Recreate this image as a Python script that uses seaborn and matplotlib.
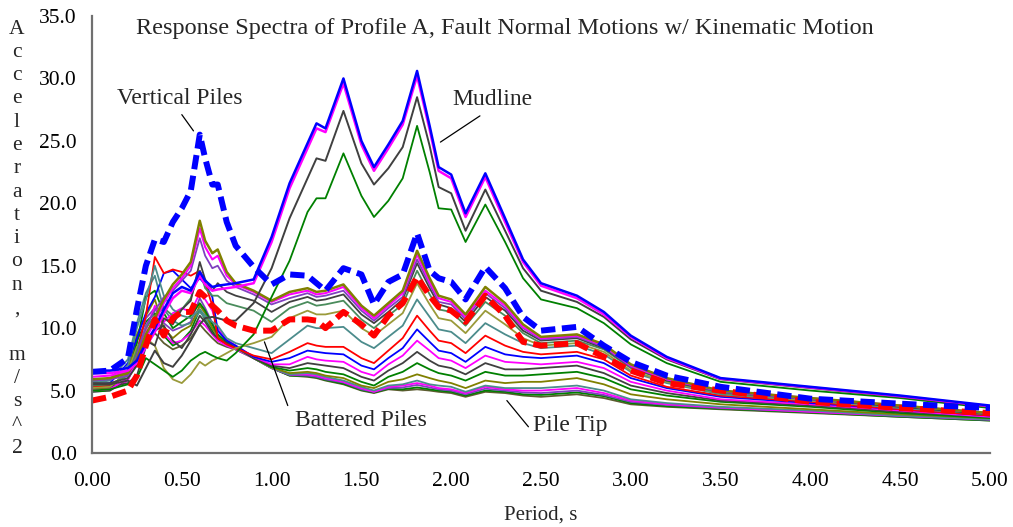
import matplotlib
matplotlib.use("Agg")
import matplotlib.pyplot as plt
import seaborn as sns
import numpy as np

# Period grid (s)
period = [0.00, 0.10, 0.20, 0.25, 0.30, 0.35, 0.40, 0.45, 0.50, 0.55,
          0.60, 0.63, 0.67, 0.70, 0.75, 0.80, 0.90, 1.00, 1.10, 1.20,
          1.25, 1.30, 1.40, 1.50, 1.57, 1.65, 1.73, 1.81, 1.88, 1.93,
          2.00, 2.08, 2.19, 2.30, 2.40, 2.50, 2.70, 2.85, 3.00, 3.20,
          3.50, 4.00, 4.50, 5.00]

# Free-field spectra near the mudline (m/s^2)
mud_blue = [6.6, 6.6, 6.8, 7.4, 8.8, 10.0, 11.5, 12.8, 13.3, 13.0, 14.5, 13.8, 13.3, 13.4, 13.5, 13.6,
            13.9, 17.3, 21.6, 24.8, 26.4, 26.0, 30.0, 25.0, 22.9, 24.7, 26.6, 30.6, 26.2, 22.9,
            22.3, 19.2, 22.4, 18.8, 15.5, 13.6, 12.6, 11.3, 9.4, 7.7, 6.0, 5.3, 4.6, 3.8]
mud_magenta = [6.4, 6.4, 6.6, 7.2, 8.5, 9.7, 11.2, 12.4, 13.0, 12.8, 14.2, 13.5, 13.0, 13.1, 13.2, 13.3,
               13.6, 16.9, 21.2, 24.4, 26.0, 25.7, 29.6, 24.7, 22.6, 24.4, 26.3, 30.2, 25.9, 22.6,
               22.0, 18.9, 22.1, 18.5, 15.3, 13.4, 12.4, 11.1, 9.3, 7.6, 5.95, 5.25, 4.55, 3.75]
mud_gray = [5.5, 5.5, 5.8, 5.4, 6.8, 8.2, 7.2, 6.9, 7.8, 9.0, 10.3, 10.8, 10.9, 10.8, 10.6, 10.6,
            12.0, 14.8, 18.8, 22.0, 23.6, 23.4, 27.4, 23.2, 21.5, 22.8, 24.5, 28.5, 24.6, 21.3,
            20.8, 17.8, 21.1, 17.8, 14.8, 13.0, 12.1, 10.9, 9.1, 7.5, 5.9, 5.2, 4.5, 3.7]
mud_green = [5.0, 5.1, 5.5, 6.0, 7.6, 7.1, 6.6, 6.1, 6.6, 7.4, 7.9, 8.1, 7.8, 7.6, 7.4, 8.0,
             9.5, 12.5, 15.4, 19.3, 20.4, 20.4, 24.0, 20.6, 18.9, 20.2, 22.0, 26.2, 22.5, 19.6,
             19.5, 16.9, 19.9, 16.9, 14.0, 12.3, 11.6, 10.4, 8.7, 7.2, 5.7, 5.0, 4.4, 3.6]

# Spectra along the pile depth, from shallow to the pile tip
depth_01 = [5.9, 6.0, 6.4, 7.5, 9.5, 10.8, 12.3, 13.5, 14.3, 15.3, 18.6, 17.0, 16.0, 16.3, 14.5, 13.6,
            13.0, 12.2, 12.9, 13.2, 12.9, 13.0, 13.5, 11.8, 11.0, 12.0, 13.0, 16.2, 14.0, 12.6,
            12.3, 11.1, 13.3, 12.0, 10.3, 9.3, 9.5, 8.7, 7.1, 6.0, 5.0, 4.4, 3.8, 3.2]
depth_02 = [6.1, 6.2, 6.5, 7.4, 9.2, 10.5, 12.0, 13.2, 14.0, 15.0, 18.0, 16.5, 15.5, 15.8, 14.2, 13.5,
            12.9, 12.1, 12.7, 13.0, 12.7, 12.8, 13.3, 11.6, 10.8, 11.8, 12.8, 15.9, 13.7, 12.4,
            12.1, 10.9, 13.0, 11.8, 10.1, 9.2, 9.4, 8.6, 7.0, 5.9, 5.0, 4.4, 3.8, 3.2]
depth_03 = [5.8, 5.9, 6.2, 7.8, 10.2, 11.4, 12.5, 13.0, 13.8, 14.6, 17.2, 15.8, 14.8, 15.0, 13.8, 13.3,
            12.7, 11.9, 12.4, 12.8, 12.5, 12.6, 13.0, 11.4, 10.6, 11.6, 12.5, 15.5, 13.5, 12.1,
            11.9, 10.7, 12.8, 11.6, 10.0, 9.1, 9.3, 8.5, 6.9, 5.9, 4.9, 4.3, 3.8, 3.15]
depth_04 = [5.6, 5.6, 6.0, 7.0, 9.0, 8.6, 10.8, 10.3, 11.5, 12.2, 15.3, 13.9, 13.0, 13.6, 12.9, 12.6,
            12.2, 11.3, 12.1, 12.5, 12.2, 12.3, 12.7, 11.1, 10.4, 11.3, 12.3, 15.2, 13.2, 11.9,
            11.6, 10.5, 12.5, 11.4, 9.8, 9.0, 9.2, 8.4, 6.9, 5.8, 4.9, 4.3, 3.7, 3.1]
depth_05 = [5.4, 5.5, 6.2, 8.2, 10.0, 11.0, 11.6, 11.0, 11.5, 12.4, 14.6, 13.2, 12.6, 12.6, 12.0, 11.8,
            11.4, 10.5, 11.6, 12.1, 11.8, 11.9, 12.2, 10.7, 10.0, 11.0, 11.9, 14.6, 12.7, 11.5,
            11.3, 10.2, 12.1, 11.0, 9.6, 8.8, 9.0, 8.3, 6.8, 5.8, 4.8, 4.3, 3.7, 3.1]
depth_06 = [5.2, 5.3, 6.5, 8.5, 9.2, 8.6, 6.8, 5.9, 5.6, 6.3, 7.3, 7.0, 7.4, 7.6, 8.0, 8.4,
            8.8, 9.3, 10.8, 11.4, 11.1, 11.1, 11.4, 10.0, 9.4, 10.3, 11.2, 13.6, 11.9, 10.8,
            10.6, 9.6, 11.4, 10.3, 9.2, 8.6, 8.8, 8.1, 6.6, 5.7, 4.8, 4.2, 3.7, 3.1]
depth_07 = [5.6, 5.8, 7.0, 10.0, 12.3, 15.0, 12.6, 11.5, 11.0, 10.8, 11.5, 11.0, 10.5, 10.2, 9.2, 8.8,
            8.4, 8.0, 9.1, 10.2, 10.0, 10.0, 10.1, 8.9, 8.4, 9.3, 10.2, 12.3, 10.9, 9.9,
            9.7, 8.8, 10.4, 9.5, 8.8, 8.4, 8.6, 7.9, 6.5, 5.6, 4.7, 4.2, 3.6, 3.1]
depth_08 = [5.3, 5.4, 6.3, 8.0, 11.0, 15.7, 14.4, 14.7, 14.5, 14.2, 14.6, 13.6, 11.8, 9.2, 8.7, 8.4,
            7.8, 7.5, 8.1, 8.8, 8.6, 8.5, 8.5, 7.6, 7.2, 8.2, 9.2, 11.0, 9.8, 9.0,
            8.8, 8.0, 9.4, 8.6, 8.1, 7.9, 8.1, 7.5, 6.2, 5.3, 4.6, 4.1, 3.5, 3.0]
depth_09 = [5.5, 5.6, 7.2, 9.2, 11.2, 12.5, 14.4, 14.6, 13.9, 13.2, 14.0, 13.5, 12.5, 9.8, 9.0, 8.6,
            7.7, 7.3, 7.6, 8.2, 8.1, 8.0, 7.9, 7.0, 6.7, 7.6, 8.4, 9.9, 8.9, 8.2,
            8.0, 7.3, 8.5, 7.9, 7.7, 7.6, 7.8, 7.2, 6.0, 5.2, 4.5, 4.0, 3.5, 3.0]
depth_10 = [5.0, 5.1, 6.0, 7.8, 9.8, 11.8, 10.5, 11.2, 11.6, 11.3, 12.8, 12.3, 11.4, 10.0, 9.1, 8.6,
            7.7, 7.1, 7.1, 7.7, 7.5, 7.4, 7.3, 6.5, 6.2, 7.1, 7.8, 9.0, 8.2, 7.6,
            7.4, 6.8, 7.8, 7.3, 7.2, 7.1, 7.3, 6.8, 5.7, 5.0, 4.3, 3.9, 3.4, 2.9]
depth_11 = [5.2, 5.3, 5.6, 6.2, 8.5, 9.8, 10.2, 9.0, 8.4, 9.5, 11.0, 10.5, 9.6, 9.2, 8.8, 8.5,
            7.6, 7.0, 6.8, 7.2, 7.1, 7.0, 6.8, 6.1, 5.8, 6.6, 7.2, 8.1, 7.4, 7.0,
            6.8, 6.3, 7.2, 6.7, 6.7, 6.8, 7.0, 6.4, 5.4, 4.8, 4.2, 3.8, 3.3, 2.9]
depth_12 = [4.9, 5.0, 6.0, 8.8, 12.5, 13.0, 11.2, 10.0, 10.5, 11.0, 12.0, 11.4, 10.3, 9.5, 8.9, 8.5,
            7.6, 6.9, 6.6, 6.8, 6.7, 6.5, 6.3, 5.7, 5.4, 6.1, 6.5, 7.2, 6.7, 6.4,
            6.2, 5.8, 6.5, 6.2, 6.2, 6.3, 6.5, 6.0, 5.1, 4.6, 4.1, 3.7, 3.2, 2.8]
depth_13 = [5.1, 5.2, 6.4, 9.5, 11.0, 12.3, 10.0, 9.2, 9.8, 10.2, 11.8, 11.2, 10.0, 9.4, 8.9, 8.5,
            7.6, 6.85, 6.4, 6.5, 6.4, 6.2, 6.0, 5.4, 5.2, 5.7, 5.9, 6.3, 6.0, 5.8,
            5.6, 5.2, 5.8, 5.6, 5.7, 5.7, 6.0, 5.5, 4.7, 4.3, 3.9, 3.5, 3.1, 2.8]
depth_14 = [5.7, 5.9, 7.5, 10.4, 12.8, 14.2, 11.5, 10.6, 10.2, 10.4, 11.3, 10.8, 10.0, 9.3, 8.8, 8.4,
            7.6, 6.8, 6.3, 6.4, 6.3, 6.1, 5.8, 5.3, 5.0, 5.4, 5.5, 5.8, 5.5, 5.4,
            5.3, 4.9, 5.4, 5.2, 5.2, 5.2, 5.4, 5.0, 4.3, 4.0, 3.7, 3.4, 3.0, 2.7]
depth_15 = [4.9, 5.0, 5.8, 7.6, 9.6, 10.8, 9.6, 8.8, 9.0, 9.6, 10.6, 10.2, 9.5, 9.0, 8.6, 8.3,
            7.6, 6.8, 6.3, 6.3, 6.2, 6.0, 5.7, 5.2, 4.9, 5.3, 5.4, 5.6, 5.4, 5.2,
            5.1, 4.8, 5.3, 5.1, 5.0, 5.0, 5.2, 4.8, 4.2, 3.9, 3.65, 3.3, 3.0, 2.7]
depth_16 = [5.3, 5.4, 6.3, 8.2, 10.8, 11.6, 10.4, 9.8, 10.1, 10.5, 12.4, 11.6, 10.4, 9.5, 8.8, 8.4,
            7.6, 6.8, 6.25, 6.2, 6.1, 5.9, 5.65, 5.1, 4.9, 5.2, 5.25, 5.45, 5.25, 5.1,
            5.0, 4.7, 5.15, 5.0, 4.85, 4.8, 5.0, 4.65, 4.1, 3.85, 3.6, 3.3, 2.95, 2.65]
depth_17 = [5.1, 5.2, 6.6, 9.0, 10.5, 11.2, 9.4, 8.6, 9.0, 9.8, 11.5, 10.7, 9.8, 9.1, 8.7, 8.3,
            7.6, 6.8, 6.2, 6.15, 6.05, 5.85, 5.55, 5.05, 4.85, 5.15, 5.1, 5.25, 5.1, 5.0,
            4.9, 4.6, 5.0, 4.9, 4.7, 4.65, 4.85, 4.55, 4.0, 3.75, 3.55, 3.25, 2.9, 2.6]
pile_tip = [5.0, 5.1, 5.9, 7.2, 8.8, 9.6, 8.8, 8.3, 8.6, 9.2, 10.3, 9.8, 9.2, 8.8, 8.5, 8.3,
            7.6, 6.8, 6.2, 6.1, 6.0, 5.8, 5.5, 5.0, 4.8, 5.1, 5.0, 5.1, 5.0, 4.9,
            4.8, 4.5, 4.9, 4.8, 4.6, 4.5, 4.7, 4.4, 3.9, 3.7, 3.5, 3.2, 2.9, 2.6]

# Pile-cap responses
vertical_piles = [6.5, 6.6, 7.6, 11.5, 15.0, 17.1, 16.9, 18.5, 19.6, 21.0, 25.5, 23.6, 21.5, 21.5, 18.5, 16.6,
                  14.9, 13.5, 14.3, 14.2, 13.6, 13.0, 14.8, 14.3, 11.9, 13.7, 14.3, 17.6, 14.6, 14.0,
                  13.7, 12.3, 14.9, 13.2, 10.9, 9.8, 10.1, 8.6, 7.3, 6.2, 5.3, 4.35, 3.95, 3.6]
battered_piles = [4.2, 4.5, 5.0, 6.2, 8.6, 10.7, 9.4, 10.8, 11.3, 11.3, 12.9, 12.5, 11.8, 11.4, 10.6, 10.2,
                  9.8, 9.8, 10.7, 10.7, 10.6, 10.0, 11.3, 10.3, 9.4, 11.0, 12.0, 14.1, 12.6, 11.7,
                  11.4, 10.5, 12.6, 11.0, 8.9, 8.6, 8.8, 7.7, 6.6, 5.6, 5.0, 4.1, 3.6, 3.2]

OLIVE, MAG, PURP, DGRAY = "#808000", "#FF00FF", "#8040C0", "#404040"
SEAG, KHAKI, TEAL, GREEN = "#4A8C5C", "#9A9A3A", "#4C8C8C", "#008000"

depth_series = [
    (pile_tip, "#5C5C30", 1.3), (depth_17, GREEN, 1.3), (depth_16, PURP, 1.3),
    (depth_15, MAG, 1.3), (depth_14, TEAL, 1.3), (depth_13, OLIVE, 1.3),
    (depth_12, GREEN, 1.3), (depth_11, DGRAY, 1.3), (depth_10, MAG, 1.3),
    (depth_09, "#0000FF", 1.3), (depth_08, "#FF0000", 1.3), (depth_07, TEAL, 1.3),
    (depth_06, KHAKI, 1.3), (depth_05, SEAG, 1.3), (depth_04, DGRAY, 1.3),
    (depth_03, PURP, 1.3), (depth_02, MAG, 1.5), (depth_01, OLIVE, 1.8),
]
mudline_series = [
    (mud_green, GREEN, 1.3), (mud_gray, DGRAY, 1.4),
    (mud_magenta, MAG, 1.8), (mud_blue, "#0000FF", 1.8),
]

sns.set_style("white")
plt.rcParams["font.family"] = ["Liberation Serif", "DejaVu Serif"]

fig = plt.figure(figsize=(10.13, 5.27), dpi=100)
ax = fig.add_axes([92 / 1013, 74 / 527, 898 / 1013, 437 / 527])

for vals, col, lw in depth_series + mudline_series:
    sns.lineplot(x=period, y=vals, color=col, linewidth=lw, ax=ax,
                 estimator=None, sort=False)

for vals, col in [(battered_piles, "#FF0000"), (vertical_piles, "#0000FF")]:
    sns.lineplot(x=period, y=vals, color=col, linewidth=4.3, ax=ax,
                 estimator=None, sort=False)
    ln = ax.lines[-1]
    ln.set_dashes([2.4, 1.1])
    ln.set_dash_capstyle("butt")

ax.set_xlim(0, 5)
ax.set_ylim(0, 35)
ax.set_xticks(np.arange(0, 5.01, 0.5))
ax.set_xticklabels([f"{v:.2f}" for v in np.arange(0, 5.01, 0.5)])
ax.set_yticks(np.arange(0, 35.1, 5))
ax.set_yticklabels([f"{v:.1f}" for v in np.arange(0, 35.1, 5)])
ax.tick_params(axis="both", direction="inout", length=10, width=1.0,
               color="black", labelsize=15.5, labelcolor="black")
ax.tick_params(axis="x", pad=9)
ax.tick_params(axis="y", pad=6)
for side in ("top", "right"):
    ax.spines[side].set_visible(False)
for side in ("left", "bottom"):
    ax.spines[side].set_color("#707070")
    ax.spines[side].set_linewidth(1.6)
ax.grid(False)
ax.set_xlabel("Period, s", fontsize=15, labelpad=10)
ax.set_ylabel("")

# Vertical axis title, one character per line
ylab = "Acceleration, m/s^2"
for i, ch in enumerate(ylab):
    if ch == " ":
        continue
    fig.text(17 / 1013, 1 - (29 + 23.3 * i) / 527, ch, ha="center", va="center",
             fontsize=15.5)

ax.text(0.46, 0.972, "Response Spectra of Profile A, Fault Normal Motions w/ Kinematic Motion",
        transform=ax.transAxes, ha="center", va="center", fontsize=17.5)

lab_kw = dict(fontsize=17, ha="center", va="center")
ax.text(0.49, 28.4, "Vertical Piles", **lab_kw)
ax.plot([0.50, 0.565], [27.1, 25.8], color="black", lw=0.9)
ax.text(2.23, 28.3, "Mudline", **lab_kw)
ax.plot([2.16, 1.94], [27.0, 24.9], color="black", lw=0.9)
ax.text(1.50, 2.6, "Battered Piles", **lab_kw)
ax.plot([0.96, 1.09], [8.9, 3.8], color="black", lw=0.9)
ax.text(2.66, 2.2, "Pile Tip", **lab_kw)
ax.plot([2.31, 2.43], [4.2, 2.1], color="black", lw=0.9)

fig.savefig("out.png", dpi=100, facecolor="white")
